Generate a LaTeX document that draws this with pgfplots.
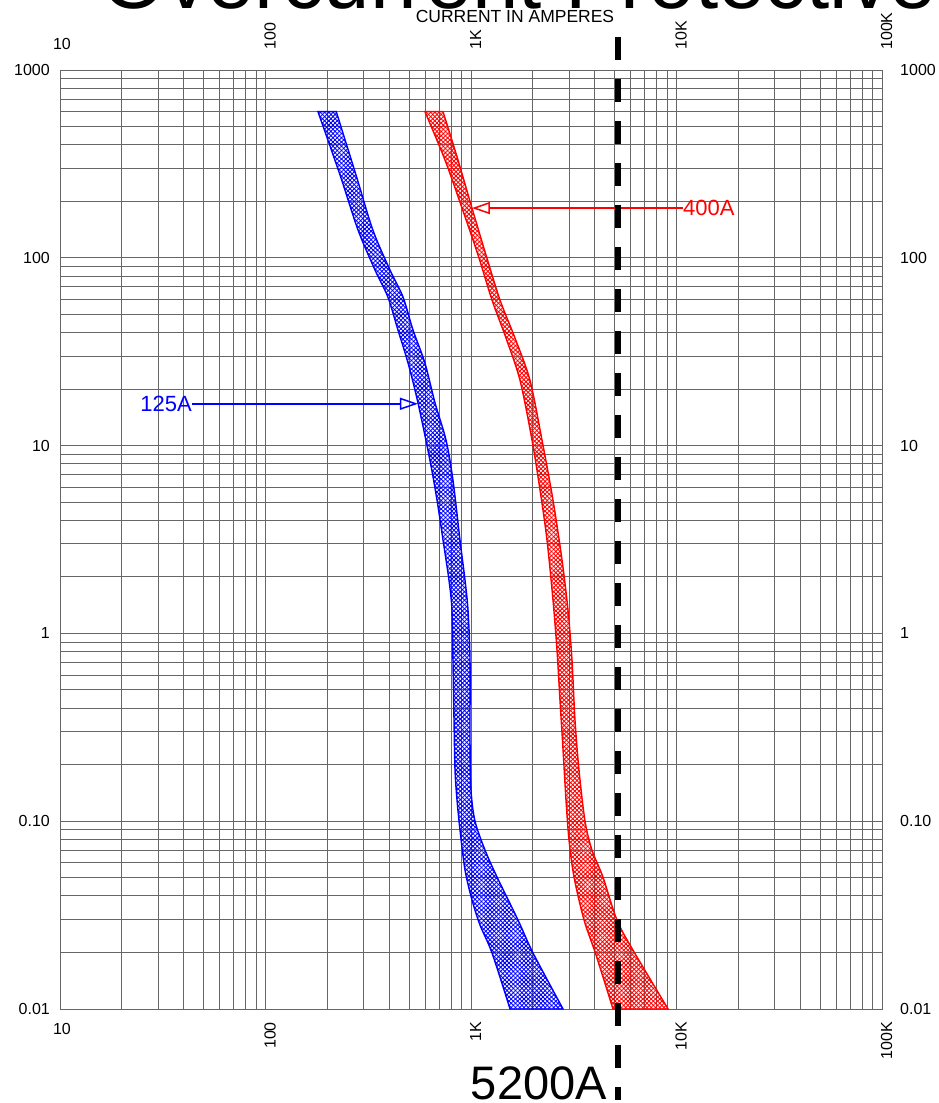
\documentclass[border=0pt]{standalone}
\usepackage{pgfplots}
\pgfplotsset{compat=1.18}
\usepgfplotslibrary{fillbetween}
\usepackage{fontspec}
\setmainfont{Liberation Sans}
\usetikzlibrary{patterns.meta,arrows.meta}

\begin{document}
\begin{tikzpicture}[x=1pt,y=1pt]
\begin{axis}[
  at={(60pt,94pt)}, anchor=south west,
  scale only axis, width=822pt, height=939pt,
  xmode=log, ymode=log,
  xmin=10, xmax=100000, ymin=0.01, ymax=1000,
  xtick={10,100,1000,10000,100000},
  ytick={0.01,0.1,1,10,100,1000},
  minor xtick={20,30,40,50,60,70,80,90,200,300,400,500,600,700,800,900,2000,3000,4000,5000,6000,7000,8000,9000,20000,30000,40000,50000,60000,70000,80000,90000},
  minor ytick={0.02,0.03,0.04,0.05,0.06,0.07,0.08,0.09,0.2,0.3,0.4,0.5,0.6,0.7,0.8,0.9,2,3,4,5,6,7,8,9,20,30,40,50,60,70,80,90,200,300,400,500,600,700,800,900},
  xticklabels={}, yticklabels={},
  major tick length=0pt, minor tick length=0pt,
  grid=both,
  major grid style={black!60, line width=0.9pt},
  minor grid style={black!60, line width=0.9pt},
  axis line style={black!60, line width=0.9pt},
  clip=false,
]
% 125A band edges
\addplot[draw=none, smooth, name path=BL] coordinates {
(180,600) (230.5,276) (282,140.6) (341.1,86.1) (394,61.8) (441,41.3) (494,27.5) (552,16.9) (631,8.38) (683.2,5.13) (731,3.14) (781.4,1.924) (808,1.332) (817,0.722) (826.6,0.3458) (836,0.1874) (855,0.1297) (884,0.0898) (935,0.055) (1011,0.0381) (1106,0.028) (1265,0.0199) (1549,0.01)};
\addplot[draw=none, smooth, name path=BR] coordinates {
(221,600) (275.7,276) (333,140.6) (403.5,86.1) (467,61.8) (522,41.3) (597,27.5) (668,16.9) (756,10.7) (817,6.56) (884,3.14) (935,1.924) (967,1.332) (989,0.722) (989,0.2706) (1000,0.1466) (1046,0.1) (1170,0.0702) (1338,0.0505) (1693,0.0298) (2003,0.0199) (2805,0.01)};
\addplot[draw=blue, line width=1.4pt,
  pattern={Lines[angle=45,distance=3pt,line width=0.9pt]}, pattern color=blue,
  postaction={pattern={Lines[angle=-45,distance=3pt,line width=0.9pt]}, pattern color=blue}]
  fill between[of=BL and BR];
% 400A band edges
\addplot[draw=none, smooth, name path=RL] coordinates {
(597,600) (747.2,331.7) (904,184.1) (1082,103.5) (1265,59.6) (1480,37.4) (1731,22.3) (1981,10.7) (2167,5.80) (2343,3.14) (2506,1.506) (2621,0.816) (2710,0.4418) (2805,0.2393) (2899,0.1297) (2999,0.0794) (3171,0.0505) (3548,0.0298) (4058,0.0194) (4909,0.01)};
\addplot[draw=none, smooth, name path=RR] coordinates {
(731,600) (864.5,331.7) (1011,184.1) (1183,103.5) (1384,59.6) (1637,37.4) (1936,22.3) (2216,10.7) (2506,5.13) (2773,2.46) (2965,1.332) (3101,0.722) (3207,0.3458) (3354,0.1874) (3589,0.1) (3880,0.0702) (4385,0.0505) (5130,0.0298) (6138,0.0206) (9100,0.01)};
\addplot[draw=red, line width=1.4pt,
  pattern={Lines[angle=45,distance=3pt,line width=0.9pt]}, pattern color=red,
  postaction={pattern={Lines[angle=-45,distance=3pt,line width=0.9pt]}, pattern color=red}]
  fill between[of=RL and RR];
% arrows and labels
\addplot[draw=red, line width=1.5pt, -{Triangle[open,length=18pt,width=12pt]}] coordinates {(10760,184) (1011,184)};
\addplot[draw=blue, line width=1.5pt, -{Triangle[open,length=18pt,width=12pt]}] coordinates {(43.9,16.7) (552,16.7)};
\node[anchor=west, text=red, font=\fontsize{22}{26}\selectfont, inner sep=0pt] at (axis cs:10760,184) {400A};
\node[anchor=east, text=blue, font=\fontsize{22}{26}\selectfont, inner sep=0pt] at (axis cs:43.9,16.7) {125A};
% 5200A line
\addplot[black, line width=5.5pt, dash pattern=on 23pt off 19pt] coordinates {(5200,1500) (5200,0.00328)};
\end{axis}

% title (clipped by page)
\node[anchor=base west, inner sep=0pt, font=\fontsize{83.5}{96}\selectfont] at (101pt,1094pt) {Overcurrent Protective Device Coordination};
\node[anchor=base, inner sep=0pt, font=\fontsize{17.5}{20}\selectfont] at (515pt,1080pt) {CURRENT IN AMPERES};

\begin{scope}[every node/.style={inner sep=0pt, font=\fontsize{16}{19}\selectfont}]
\foreach \v/\y in {1000/1033, 100/845.2, 10/657.4, 1/469.6, 0.10/281.8, 0.01/94} {
  \node[anchor=east] at (50pt,\y pt) {\v};
  \node[anchor=west] at (900pt,\y pt) {\v};
}
\node[anchor=base] at (62pt,1053pt) {10};
\node[anchor=north] at (62pt,80pt) {10};
\foreach \t/\x in {100/265.5, 1K/471, 10K/676.5, 100K/882} {
  \node[rotate=90, anchor=base west] at (\x pt+10pt,1053pt) {\t};
  \node[rotate=90, anchor=base east] at (\x pt+10pt,81pt) {\t};
}
\end{scope}

\node[anchor=base east, inner sep=0pt, font=\fontsize{47}{52}\selectfont] at (607pt,4pt) {5200A};

\pgfresetboundingbox
\path[use as bounding box] (0,0) rectangle (938pt,1103pt);
\end{tikzpicture}
\end{document}
